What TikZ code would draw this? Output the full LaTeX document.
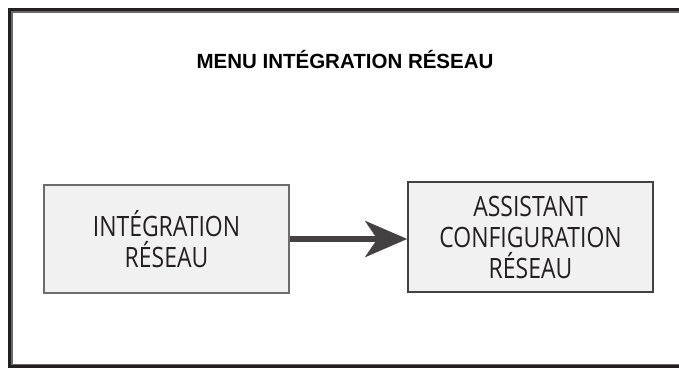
\documentclass[tikz,border=0pt]{standalone}
\usepackage{fontspec}
\setmainfont{Liberation Sans}
\newfontfamily\boxfont[FakeStretch=0.82]{Open Sans}
\usetikzlibrary{arrows.meta}

\definecolor{framedark}{HTML}{231F20}
\definecolor{framegray}{HTML}{6A6A6A}
\definecolor{boxfill}{HTML}{F1F1F1}

\begin{document}
\begin{tikzpicture}[x=1pt,y=-1pt,
  menubox/.style={draw,fill=boxfill,line width=1.5pt,minimum width=245pt,
    align=center,text=framedark,inner sep=0pt,
    font=\boxfont\fontsize{28}{31}\selectfont}]
  \useasboundingbox (0,0) rectangle (679,368);
  % outer frame, cut off at the right
  \draw[line width=3pt,framedark] (679,9.5) -- (9.5,9.5) -- (9.5,366.5) -- (679,366.5);
  \draw[line width=1.5pt,framegray] (679,12.2) -- (12.2,12.2) -- (12.2,364.3) -- (679,364.3);
  \node[anchor=base,text=black,font=\bfseries\fontsize{20.5}{24}\selectfont] (title) at (345,68.5) {MENU INTÉGRATION RÉSEAU};
  \node[menubox,draw=gray!85!black,minimum height=108pt] (integ) at (166.5,239) {INTÉGRATION\\RÉSEAU};
  \node[menubox,draw=framedark!85,minimum height=110pt] (assist) at (530.5,237) {ASSISTANT\\CONFIGURATION\\RÉSEAU};
  \draw[line width=6pt,framedark!85,-{Stealth[length=42pt,width=36pt,inset=12pt]}] (integ.east) -- (integ.east -| assist.west);
\end{tikzpicture}
\end{document}
